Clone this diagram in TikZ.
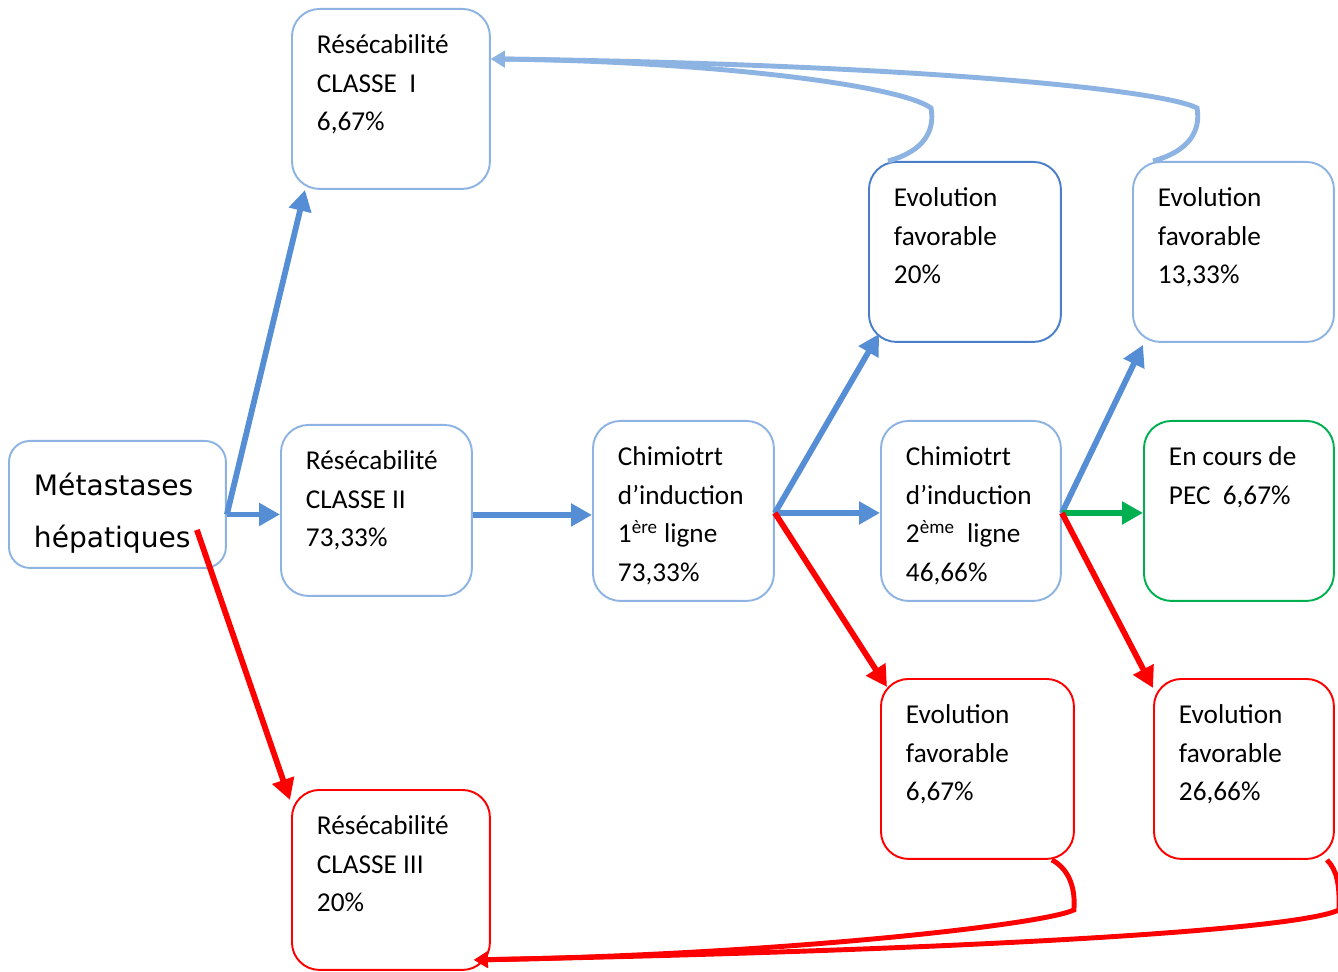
\documentclass[tikz,border=0pt]{standalone}
\usepackage{fontspec}
\setmainfont{Carlito}
\newfontfamily\metfont{DejaVu Sans}
\usetikzlibrary{arrows.meta,positioning,calc}
\definecolor{boxblue}{HTML}{8DB3E2}
\definecolor{darkbox}{HTML}{4A7EC9}
\definecolor{arrblue}{HTML}{558ED5}
\definecolor{curveblue}{HTML}{8DB3E2}
\definecolor{pecgreen}{HTML}{00B050}
\definecolor{redline}{HTML}{FF0000}
\tikzset{
  stepbox/.style n args={3}{
    rectangle, draw=#1, line width=1.1pt, rounded corners=0.55cm,
    anchor=north west, inner xsep=0.5cm, inner ysep=0.36cm,
    font=\fontsize{15.5}{21.9}\selectfont,
    execute at begin node={\begin{minipage}[t][#3][t]{#2}\strut},
    execute at end node={\end{minipage}}
  },
  flowarrow/.style={
    line width=3.3pt, draw=#1, -{Triangle[length=0.42cm, width=0.44cm]}
  },
  flowarrow/.default=arrblue,
  backarrow/.style={
    line width=2.8pt, draw=#1, -{Triangle[length=0.28cm, width=0.32cm]}
  },
  backarrow/.default=curveblue,
}
\begin{document}
\begin{tikzpicture}[x=0.02cm, y=-0.02cm]
  \useasboundingbox (0,0) rectangle (1338,972);

  % Start
  \node[stepbox={boxblue}{3.34cm}{1.82cm}, rounded corners=0.42cm,
        font=\metfont\fontsize{16}{29.6}\selectfont] (met) at (8,440) {Métastases\\hépatiques};

  % Resecability classes
  \node[stepbox={boxblue}{2.96cm}{2.88cm}] (res1) at (291,8) {Résécabilité\\CLASSE\ \ I\\6,67\%};
  \node[stepbox={boxblue}{2.82cm}{2.70cm}] (res2) at (280,424) {Résécabilité\\CLASSE II\\73,33\%};
  \node[stepbox={redline}{2.96cm}{2.88cm}] (res3) at (291,789) {Résécabilité\\CLASSE III\\20\%};

  % Induction chemotherapy
  \node[stepbox={boxblue}{2.62cm}{2.88cm}] (chim1) at (592,420) {Chimiotrt\\d’induction\\1\textsuperscript{ère} ligne\\73,33\%};
  \node[stepbox={boxblue}{2.60cm}{2.88cm}] (chim2) at (880,420) {Chimiotrt\\d’induction\\2\textsuperscript{ème}\ \ ligne\\46,66\%};

  % Outcomes
  \node[stepbox={darkbox}{2.84cm}{2.88cm}] (evo1) at (868,161) {Evolution\\favorable\\20\%};
  \node[stepbox={boxblue}{3.02cm}{2.88cm}] (evo2) at (1132,161) {Evolution\\favorable\\13,33\%};
  \node[stepbox={pecgreen}{2.80cm}{2.88cm}] (pec) at (1143,420) {En cours de\\PEC\ \ 6,67\%};
  \node[stepbox={redline}{2.86cm}{2.88cm}] (evo3) at (880,678) {Evolution\\favorable\\6,67\%};
  \node[stepbox={redline}{2.60cm}{2.88cm}] (evo4) at (1153,678) {Evolution\\favorable\\26,66\%};

  % Branch points
  \coordinate (metout) at ([yshift=-0.2cm]met.east);
  \coordinate (metred) at ([xshift=-0.6cm, yshift=0.78cm]met.south east);
  \coordinate (res2out) at ([yshift=-0.09cm]res2.east);
  \coordinate (chim1out) at ([yshift=-0.04cm]chim1.east);
  \coordinate (chim2out) at ([yshift=-0.04cm]chim2.east);

  \draw[flowarrow] (metout) -- ([xshift=0.28cm]res1.south west);
  \draw[flowarrow] (metout) -- (metout -| res2.west);
  \draw[flowarrow=redline] (metred) -- ([xshift=-0.02cm, yshift=-0.22cm]res3.north west);
  \draw[flowarrow] (res2out) -- (res2out -| chim1.west);

  \draw[flowarrow] (chim1out) -- ([xshift=0.22cm, yshift=0.18cm]evo1.south west);
  \draw[flowarrow] (chim1out) -- (chim1out -| chim2.west);
  \draw[flowarrow=redline] (chim1out) -- ([xshift=0.14cm, yshift=-0.18cm]evo3.north west);

  \draw[flowarrow] (chim2out) -- ([xshift=0.22cm, yshift=-0.04cm]evo2.south west);
  \draw[flowarrow=pecgreen] (chim2out) -- (chim2out -| pec.west);
  \draw[flowarrow=redline] (chim2out) -- ([yshift=-0.2cm]evo4.north west);

  % Back to class I
  \coordinate (evo1top) at ([xshift=0.4cm]evo1.north west);
  \coordinate (evo1bend) at ([xshift=1.26cm, yshift=1.06cm]evo1.north west);
  \coordinate (evo2top) at ([xshift=0.42cm]evo2.north west);
  \coordinate (evo2bend) at ([xshift=1.3cm, yshift=1.06cm]evo2.north west);
  \coordinate (res1in) at ([yshift=0.8cm]res1.east);
  \draw[backarrow] (evo1top) .. controls +(37,-10) and +(4,22) .. (evo1bend)
    .. controls +(-35,-25) and +(200,2) .. (res1in);
  \draw[backarrow] (evo2top) .. controls +(37,-10) and +(4,22) .. (evo2bend)
    .. controls +(-40,-20) and +(400,5) .. (res1in);

  % Back to class III
  \coordinate (evo3bot) at ([xshift=-0.46cm]evo3.south east);
  \coordinate (evo3bend) at ([xshift=-0.02cm, yshift=-1cm]evo3.south east);
  \coordinate (evo4bot) at ([xshift=-0.16cm]evo4.south east);
  \coordinate (evo4bend) at ([xshift=0.08cm, yshift=-1cm]evo4.south east);
  \coordinate (res3in) at ([xshift=-0.34cm, yshift=0.22cm]res3.south east);
  \draw[backarrow=redline] (evo3bot) .. controls +(15,8) and +(2,-25) .. (evo3bend)
    .. controls +(-30,15) and +(300,-5) .. (res3in);
  \draw[backarrow=redline] (evo4bot) .. controls +(10,10) and +(1,-25) .. (evo4bend)
    .. controls +(-40,20) and +(500,-10) .. (res3in);
\end{tikzpicture}
\end{document}
